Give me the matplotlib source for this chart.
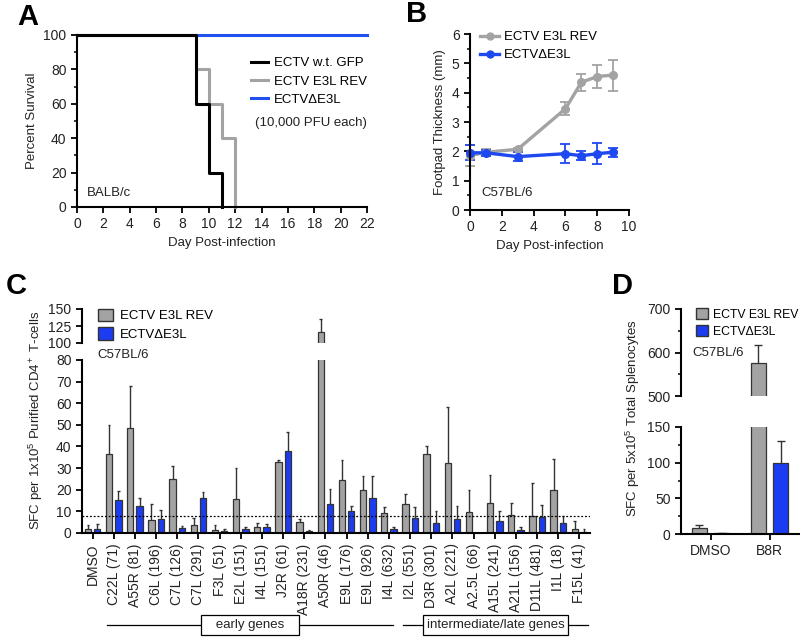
import numpy as np
import matplotlib
matplotlib.use("Agg")
import matplotlib.pyplot as plt
from matplotlib.patches import Patch
from matplotlib.lines import Line2D
from matplotlib.ticker import MultipleLocator, FixedLocator
import matplotlib.transforms as mtransforms

plt.rcParams["font.family"] = ["Liberation Sans", "DejaVu Sans"]
plt.rcParams["mathtext.fontset"] = "custom"
plt.rcParams["mathtext.rm"] = "Liberation Sans"
plt.rcParams["mathtext.it"] = "Liberation Sans:italic"
plt.rcParams["mathtext.bf"] = "Liberation Sans:bold"
plt.rcParams["axes.linewidth"] = 1.5
plt.rcParams["xtick.major.width"] = 1.3
plt.rcParams["ytick.major.width"] = 1.3
plt.rcParams["xtick.minor.width"] = 1.1
plt.rcParams["ytick.minor.width"] = 1.1
plt.rcParams["xtick.major.size"] = 4
plt.rcParams["ytick.major.size"] = 4
plt.rcParams["ytick.minor.size"] = 2.5
plt.rcParams["xtick.labelsize"] = 10
plt.rcParams["ytick.labelsize"] = 10
plt.rcParams["xtick.color"] = "black"
plt.rcParams["ytick.color"] = "black"
plt.rcParams["xtick.labelcolor"] = "#222222"
plt.rcParams["ytick.labelcolor"] = "#222222"

GRAY = "#a3a3a3"
BLUE = "#1b3cf0"
LBLUE = "#1e48f0"
EDGE = "#333333"
TXT = "#222222"

# ---- panel A: survival (step curves)
wt_days = [0, 9, 10, 11]
wt_surv = [100, 60, 20, 0]
rev_days = [0, 9, 10, 11, 12]
rev_surv = [100, 80, 60, 40, 0]
del_days = [0, 22]
del_surv = [100, 100]

# ---- panel B: footpad thickness
fp_days = [0, 1, 3, 6, 7, 8, 9]
fp_rev = [1.85, 1.97, 2.07, 3.45, 4.35, 4.55, 4.6]
fp_rev_err = [0.35, 0.10, 0.05, 0.22, 0.30, 0.40, 0.53]
fp_del = [1.95, 1.95, 1.82, 1.92, 1.85, 1.92, 1.97]
fp_del_err = [0.25, 0.10, 0.15, 0.32, 0.15, 0.35, 0.15]

# ---- panel C: CD4 ELISpot per peptide
peptides = ["DMSO", "C22L (71)", "A55R (81)", "C6L (196)", "C7L (126)", "C7L (291)",
            "F3L (51)", "E2L (151)", "I4L (151)", "J2R (61)", "A18R (231)", "A50R (46)",
            "E9L (176)", "E9L (926)", "I4L (632)", "I2L (551)", "D3R (301)", "A2L (221)",
            "A2.5L (66)", "A15L (241)", "A21L (156)", "D11L (481)", "I1L (18)", "F15L (41)"]
sfc_rev = [1.8, 36.5, 48.5, 5.8, 25.0, 3.5, 1.5, 15.6, 2.6, 33.0, 5.1, 116.5,
           24.5, 19.8, 9.4, 13.3, 36.4, 32.3, 9.7, 14.0, 8.5, 7.7, 19.8, 1.8]
sfc_rev_err = [1.7, 13.5, 19.5, 7.8, 5.8, 3.3, 2.3, 14.4, 2.1, 0.6, 1.3, 19.0,
               9.3, 6.4, 2.4, 4.9, 4.0, 26.0, 10.0, 13.0, 5.5, 15.6, 14.6, 3.8]
sfc_del = [1.8, 15.2, 12.6, 6.5, 2.4, 16.4, 0.8, 1.8, 2.6, 37.8, 0.8, 13.3,
           10.3, 16.4, 1.8, 7.0, 4.7, 6.4, 0.0, 5.5, 1.5, 7.4, 4.7, 0.6]
sfc_del_err = [2.2, 4.2, 3.4, 4.1, 0.9, 2.6, 1.0, 0.9, 1.4, 9.0, 0.4, 6.9,
               2.3, 9.8, 1.2, 4.8, 5.3, 6.2, 0.0, 4.7, 1.2, 5.6, 3.0, 1.4]
cutoff = 8
early_span = (0.7, 14.2)
late_span = (14.67, 23.4)

# ---- panel D: B8R ELISpot on splenocytes
d_cats = ["DMSO", "B8R"]
d_rev = [8, 575]
d_rev_err = [5, 43]
d_del = [1, 100]
d_del_err = [0.4, 31]

W, H = 800, 638
fig = plt.figure(figsize=(W / 100, H / 100), dpi=100)


def box(l, t, r, b):
    return [l / W, 1 - b / H, (r - l) / W, (b - t) / H]


def clean(ax, left=True, bottom=True):
    ax.spines["top"].set_visible(False)
    ax.spines["right"].set_visible(False)
    ax.spines["left"].set_visible(left)
    ax.spines["bottom"].set_visible(bottom)


# ================= A =================
axA = fig.add_axes(box(77, 35, 367, 207))
axA.plot(del_days, del_surv, color="#2050f0", lw=2.2, clip_on=False, label="ECTV\u0394E3L")
axA.plot(rev_days, rev_surv, color=GRAY, lw=2.2, drawstyle="steps-post", clip_on=False,
         label="ECTV E3L REV")
axA.plot(wt_days, wt_surv, color="black", lw=2.2, drawstyle="steps-post", clip_on=False,
         label="ECTV w.t. GFP")
axA.set_xlim(0, 22)
axA.set_ylim(0, 100)
axA.xaxis.set_major_locator(MultipleLocator(2))
axA.yaxis.set_major_locator(MultipleLocator(20))
axA.yaxis.set_minor_locator(MultipleLocator(10))
clean(axA)
axA.set_ylabel("Percent Survival", fontsize=9.5, color=TXT)
axA.set_xlabel("Day Post-infection", fontsize=9.5, color=TXT)
h, l = axA.get_legend_handles_labels()
axA.legend(h[::-1], l[::-1], loc="upper left", bbox_to_anchor=(0.56, 0.94), frameon=False,
           fontsize=9.5, handlelength=1.3, handletextpad=0.4, labelspacing=0.45)
axA.text(0.614, 0.488, "(10,000 PFU each)", transform=axA.transAxes, fontsize=9.5,
         color=TXT, va="center")
axA.text(0.035, 0.082, "BALB/c", transform=axA.transAxes, fontsize=9.5, color=TXT,
         va="center")

# ================= B =================
axB = fig.add_axes(box(470, 34, 629, 210))
axB.errorbar(fp_days, fp_rev, yerr=fp_rev_err, color=GRAY, lw=2.4, marker="o", ms=5.5,
             capsize=3.5, elinewidth=1.3, capthick=1.3, clip_on=False)
axB.errorbar(fp_days, fp_del, yerr=fp_del_err, color=LBLUE, lw=2.4, marker="o", ms=5.5,
             capsize=3.5, elinewidth=1.3, capthick=1.3, clip_on=False)
axB.set_xlim(0, 10)
axB.set_ylim(0, 6)
axB.xaxis.set_major_locator(MultipleLocator(2))
axB.yaxis.set_major_locator(MultipleLocator(1))
axB.yaxis.set_minor_locator(MultipleLocator(0.5))
clean(axB)
axB.set_ylabel("Footpad Thickness (mm)", fontsize=9.5, color=TXT)
axB.set_xlabel("Day Post-infection", fontsize=9.5, color=TXT)
axB.legend(handles=[Line2D([], [], color=GRAY, lw=2.4, marker="o", ms=5, label="ECTV E3L REV"),
                    Line2D([], [], color=LBLUE, lw=2.4, marker="o", ms=5, label="ECTV\u0394E3L")],
           loc="upper left", bbox_to_anchor=(-0.01, 1.085), frameon=False, fontsize=9.5,
           handlelength=1.4, handletextpad=0.4, labelspacing=0.45)
axB.text(0.07, 0.08, "C57BL/6", transform=axB.transAxes, fontsize=9.5, color=TXT)

# ================= C =================
xc = np.arange(len(peptides))
off, bw = 0.22, 0.3
axC = fig.add_axes(box(82, 360, 590, 533))
axCu = fig.add_axes(box(82, 309, 590, 343))
for ax in (axC, axCu):
    ax.bar(xc - off, sfc_rev, bw, color=GRAY, edgecolor=EDGE, lw=0.9)
    ax.bar(xc + off, sfc_del, bw, color=BLUE, edgecolor=EDGE, lw=0.9)
    for xs, v, e in ((xc - off, sfc_rev, sfc_rev_err), (xc + off, sfc_del, sfc_del_err)):
        v = np.asarray(v)
        e = np.asarray(e)
        m = e > 0
        ax.vlines(xs[m], v[m], v[m] + e[m], color=EDGE, lw=1.0)
        ax.hlines(v[m] + e[m], xs[m] - 0.06, xs[m] + 0.06, color=EDGE, lw=1.0)
    ax.set_xlim(-0.5, len(peptides) - 0.5)
axC.set_ylim(0, 80)
axCu.set_ylim(100, 150)
axC.yaxis.set_major_locator(MultipleLocator(10))
axCu.yaxis.set_major_locator(FixedLocator([100, 125, 150]))
axC.axhline(cutoff, color="black", lw=0.9, ls=(0, (1.5, 1.5)))
axC.set_xticks(xc)
axC.set_xticklabels(peptides, rotation=90, fontsize=10, color=TXT)
clean(axC)
clean(axCu, bottom=False)
axCu.set_xticks([])

trans = mtransforms.blended_transform_factory(axC.transData, axC.transAxes)
for span, name in ((early_span, "   early genes   "), (late_span, "intermediate/late genes")):
    axC.plot(span, [-0.532, -0.532], color="black", lw=0.9, transform=trans, clip_on=False)
    axC.text(np.mean(span), -0.532, name, transform=trans, ha="center", va="center",
             fontsize=9.5, color=TXT,
             bbox=dict(boxstyle="square,pad=0.3", fc="white", ec="black", lw=0.9))

fig.legend(handles=[Patch(fc=GRAY, ec=EDGE, label="ECTV E3L REV"),
                    Patch(fc=BLUE, ec=EDGE, label="ECTV\u0394E3L")],
           loc="upper left", bbox_to_anchor=(91 / W, 1 - 302 / H), frameon=False,
           fontsize=9.5, handlelength=1.2, handleheight=1.1, handletextpad=0.5,
           labelspacing=0.35, borderpad=0)
fig.text(97 / W, 1 - 355 / H, "C57BL/6", fontsize=9.5, color=TXT, va="center")
fig.text(36 / W, 1 - 420 / H, "SFC per 1x10$^5$ Purified CD4$^+$ T-cells", rotation=90,
         ha="center", va="center", fontsize=9.5, color=TXT)

# ================= D =================
xd = np.arange(len(d_cats))
offd, bwd = 0.19, 0.26
axD = fig.add_axes(box(681, 427, 799, 534))
axDu = fig.add_axes(box(681, 309, 799, 396))
for ax in (axD, axDu):
    ax.bar(xd - offd, d_rev, bwd, color=GRAY, edgecolor=EDGE, lw=0.9)
    ax.bar(xd + offd, d_del, bwd, color=BLUE, edgecolor=EDGE, lw=0.9)
    for xs, v, e in ((xd - offd, d_rev, d_rev_err), (xd + offd, d_del, d_del_err)):
        v = np.asarray(v)
        e = np.asarray(e)
        ax.vlines(xs, v, v + e, color=EDGE, lw=1.0)
        ax.hlines(v + e, xs - 0.07, xs + 0.07, color=EDGE, lw=1.0)
    ax.set_xlim(-0.5, 1.5)
axD.set_ylim(0, 150)
axDu.set_ylim(500, 700)
axD.yaxis.set_major_locator(MultipleLocator(50))
axD.yaxis.set_minor_locator(MultipleLocator(25))
axDu.yaxis.set_major_locator(MultipleLocator(100))
axDu.yaxis.set_minor_locator(MultipleLocator(50))
axD.set_xticks(xd)
axD.set_xticklabels(d_cats, fontsize=10, color=TXT)
clean(axD)
clean(axDu, bottom=False)
axDu.set_xticks([])
fig.legend(handles=[Patch(fc=GRAY, ec=EDGE, label="ECTV E3L REV"),
                    Patch(fc=BLUE, ec=EDGE, label="ECTV\u0394E3L")],
           loc="upper left", bbox_to_anchor=(690 / W, 1 - 302 / H), frameon=False,
           fontsize=8.8, handlelength=1.0, handleheight=1.0, handletextpad=0.35,
           labelspacing=0.35, borderpad=0)
fig.text(692 / W, 1 - 353 / H, "C57BL/6", fontsize=9.5, color=TXT, va="center")
fig.text(633 / W, 1 - 418 / H, "SFC per 5x10$^5$ Total Splenocytes", rotation=90,
         ha="center", va="center", fontsize=9.5, color=TXT)

# panel letters
for x, y, s in ((28, 17, "A"), (417, 14, "B"), (16, 286, "C"), (622, 286, "D")):
    fig.text(x / W, 1 - y / H, s, fontsize=21, fontweight="bold", ha="center", va="center")

fig.savefig("out.png", dpi=100)
